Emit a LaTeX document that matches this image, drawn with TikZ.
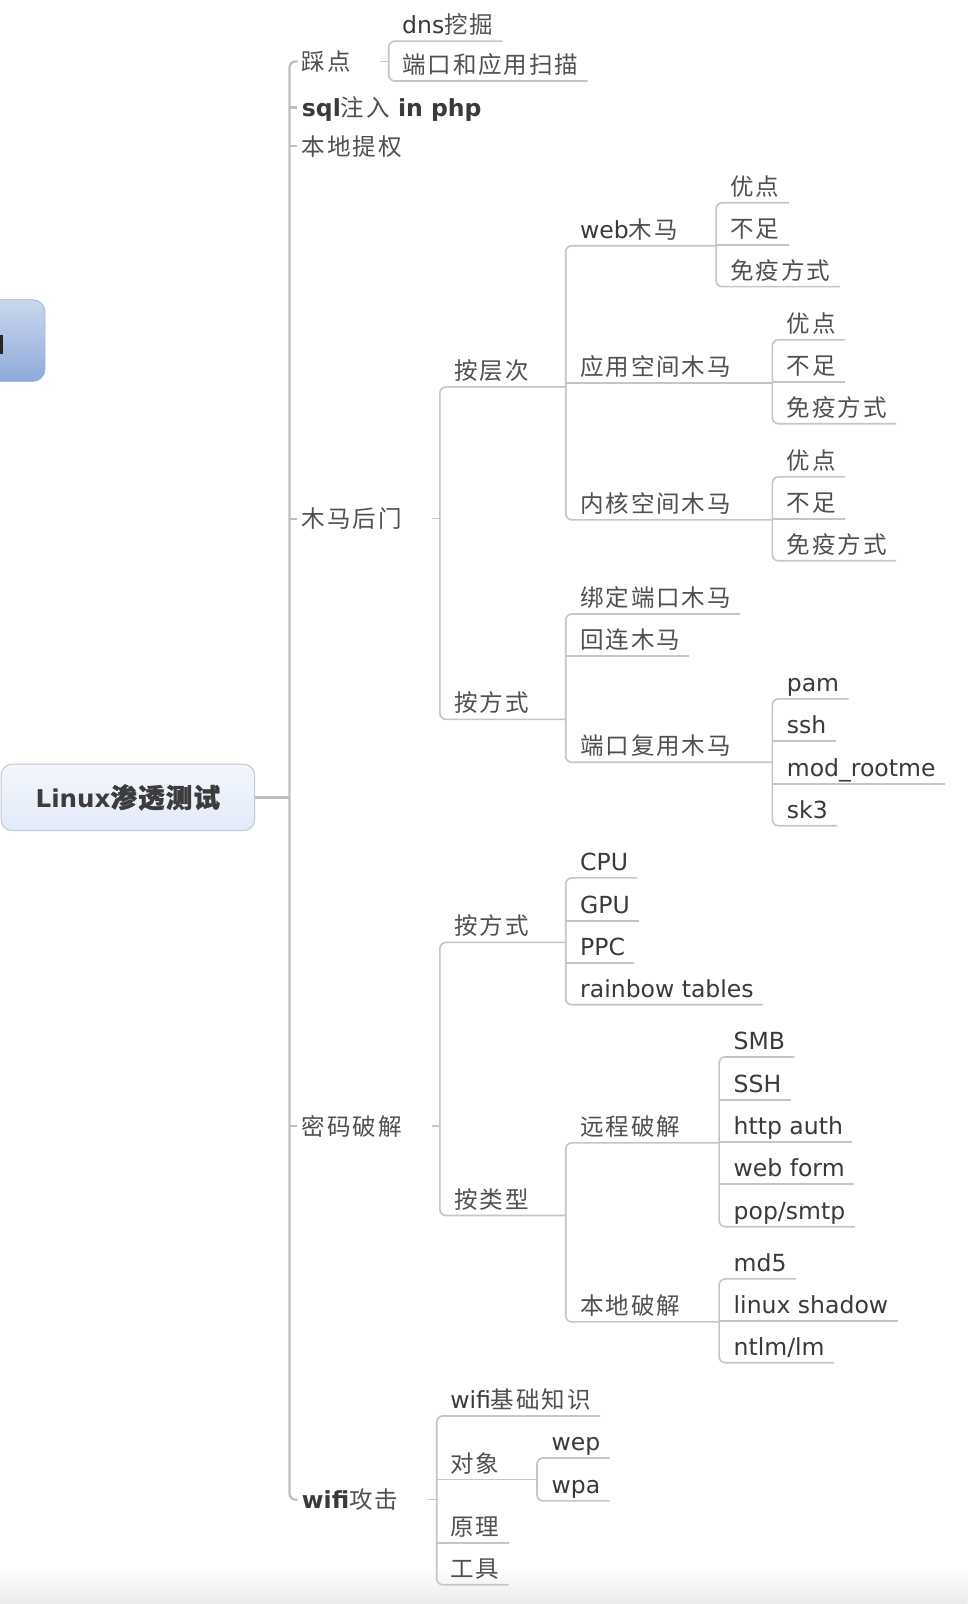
\documentclass[tikz,border=0pt]{standalone}
\usepackage{fontspec}
\setmainfont{DejaVu Sans}
\newfontfamily\zhfont[LetterSpace=8]{Noto Sans CJK SC}
\newfontfamily\zhbfont[LetterSpace=4,FakeBold=1.2]{Noto Sans CJK SC}
\definecolor{lc}{HTML}{C6C6C6}
\definecolor{lcm}{HTML}{BEBEBE}
\definecolor{txt}{HTML}{3A3A3A}
\definecolor{zhc}{HTML}{505050}
\definecolor{rootc}{HTML}{3C3C3C}
\definecolor{rootb}{HTML}{C4C8D0}
\definecolor{roott}{HTML}{F3F6FD}
\definecolor{rootbt}{HTML}{E2EAF8}
\definecolor{bluet}{HTML}{CAD7EE}
\definecolor{blueb}{HTML}{8EAADA}
\definecolor{bluebd}{HTML}{A8B8D8}
\newcommand\zh{\mdseries\zhfont\color{zhc}}
\newcommand\zhb{\fontsize{26}{30}\selectfont\zhbfont\color{rootc}}
\newcommand\mkleaf[1]{\coordinate (#1-e) at ([xshift=9pt]#1.south east);}
\newcommand\mkpar[2]{\coordinate (#1-e) at (#2 |- #1.south);}
\newcommand\branchgrp[3]{\draw[ln,rounded corners=6pt] (#2-e) -- (#1 |- #2.south) -- (#1 |- #3.south) -- (#3-e);}
\newcommand\midul[2]{\draw[ln] (#1 |- #2.south) -- (#2-e);}
\tikzset{
  t/.style={anchor=west, inner xsep=0pt, inner ysep=5pt, text height=20pt, text depth=2pt, text=txt, font=\fontsize{23}{26}\selectfont},
  ln/.style={draw=lc, line width=1.6pt},
  mainln/.style={draw=lcm, line width=2.2pt},
}
\begin{document}
\begin{tikzpicture}[x=1pt,y=-1pt]
\useasboundingbox (0,0) rectangle (946,1568);
\clip (0,0) rectangle (946,1568);
\fill[white] (0,0) rectangle (946,1568);
\shade[top color=white, bottom color=black!8] (0,1532) rectangle (946,1568);

% partial node at the left edge
\draw[draw=bluebd, line width=0.8pt, top color=bluet, bottom color=blueb, rounded corners=12pt] (-30,293) rectangle (44,373);
\fill[black!85] (0,327) rectangle (3,346);

% stem coordinates
\coordinate (sM) at (283,0);
\coordinate (sCD) at (380,0);
\coordinate (sMM) at (430,0);
\coordinate (sACC) at (553,0);
\coordinate (sWEB) at (700,0);
\coordinate (sAPP) at (755,0);
\coordinate (sKER) at (755,0);
\coordinate (sAFS) at (553,0);
\coordinate (sREU) at (755,0);
\coordinate (sPW) at (430,0);
\coordinate (sPFS) at (553,0);
\coordinate (sPLX) at (553,0);
\coordinate (sREM) at (703,0);
\coordinate (sLOC) at (703,0);
\coordinate (sWF) at (427,0);
\coordinate (sOBJ) at (525,0);

% root
\node[draw=rootb, line width=1pt, rounded corners=11pt, top color=roott, bottom color=rootbt, minimum width=248pt, minimum height=65pt, inner sep=0pt, font=\fontsize{24}{28}\selectfont\bfseries, text=rootc] (root) at (125,779.5) {Linux{\zhb 渗透测试}};

% level 1
\node[t] (cd) at (295,60) {\zh 踩点};
\node[t] (sql) at (295,105) {\bfseries sql{\zh 注入} in php};
\node[t] (tq) at (295,143) {\zh 本地提权};
\node[t] (mm) at (295,507) {\zh 木马后门};
\node[t] (pw) at (295,1101) {\zh 密码破解};
\node[t] (wifi) at (295,1466) {\bfseries wifi{\zh 攻击}};

% 踩点
\node[t] (dns) at (393,24) {dns{\zh 挖掘}};
\node[t] (port) at (393,63) {\zh 端口和应用扫描};

% 木马后门
\node[t] (acc) at (444,362) {\zh 按层次};
\node[t] (afs) at (444,687) {\zh 按方式};
\node[t] (web) at (567,224) {web{\zh 木马}};
\node[t] (w1) at (714,182) {\zh 优点};
\node[t] (w2) at (714,223) {\zh 不足};
\node[t] (w3) at (714,264) {\zh 免疫方式};
\node[t] (app) at (567,358) {\zh 应用空间木马};
\node[t] (a1) at (769,316) {\zh 优点};
\node[t] (a2) at (769,357) {\zh 不足};
\node[t] (a3) at (769,398) {\zh 免疫方式};
\node[t] (ker) at (567,492) {\zh 内核空间木马};
\node[t] (k1) at (769,450) {\zh 优点};
\node[t] (k2) at (769,491) {\zh 不足};
\node[t] (k3) at (769,532) {\zh 免疫方式};
\node[t] (bind) at (567,584) {\zh 绑定端口木马};
\node[t] (back) at (567,625) {\zh 回连木马};
\node[t] (reuse) at (567,729) {\zh 端口复用木马};
\node[t] (pam) at (769,667) {pam};
\node[t] (ssh) at (769,708) {ssh};
\node[t] (rootme) at (769,750) {mod\_rootme};
\node[t] (sk3) at (769,791) {sk3};

% 密码破解
\node[t] (pfs) at (444,905) {\zh 按方式};
\node[t] (cpu) at (567,842) {CPU};
\node[t] (gpu) at (567,884) {GPU};
\node[t] (ppc) at (567,925) {PPC};
\node[t] (rb) at (567,966) {rainbow tables};
\node[t] (plx) at (444,1172) {\zh 按类型};
\node[t] (rem) at (567,1101) {\zh 远程破解};
\node[t] (smb) at (717,1017) {SMB};
\node[t] (sshb) at (717,1059) {SSH};
\node[t] (http) at (717,1100) {http auth};
\node[t] (wform) at (717,1141) {web form};
\node[t] (pop) at (717,1183) {pop/smtp};
\node[t] (loc) at (567,1276) {\zh 本地破解};
\node[t] (md5) at (717,1234) {md5};
\node[t] (shadow) at (717,1275) {linux shadow};
\node[t] (ntlm) at (717,1316) {ntlm/lm};

% wifi攻击
\node[t] (wb) at (440,1368) {wifi{\zh 基础知识}};
\node[t] (obj) at (440,1430) {\zh 对象};
\node[t] (wep) at (539,1409) {wep};
\node[t] (wpa) at (539,1451) {wpa};
\node[t] (yl) at (440,1492) {\zh 原理};
\node[t] (gj) at (440,1533) {\zh 工具};

% main stem
\draw[mainln, rounded corners=6pt] ([xshift=-4pt]cd.west) -- (sM |- cd.west) -- (sM |- wifi.west) -- ([xshift=-4pt]wifi.west);
\foreach \n in {sql,tq,mm,pw} {\draw[mainln] (sM |- \n.west) -- ([xshift=-5pt]\n.west);}
\draw[mainln] (root.east) -- (sM |- root.east);

% 踩点 group
\mkleaf{dns}\mkleaf{port}
\draw[ln] (sCD |- cd.west) -- ++(-9,0);
\branchgrp{sCD}{dns}{port}

% 木马后门 group
\mkpar{acc}{sACC}\mkpar{afs}{sAFS}
\draw[ln] (sMM |- mm.west) -- ++(-8,0);
\branchgrp{sMM}{acc}{afs}

\mkpar{web}{sWEB}\mkpar{app}{sAPP}\mkpar{ker}{sKER}
\branchgrp{sACC}{web}{ker}\midul{sACC}{app}

\mkleaf{w1}\mkleaf{w2}\mkleaf{w3}
\branchgrp{sWEB}{w1}{w3}\midul{sWEB}{w2}
\mkleaf{a1}\mkleaf{a2}\mkleaf{a3}
\branchgrp{sAPP}{a1}{a3}\midul{sAPP}{a2}
\mkleaf{k1}\mkleaf{k2}\mkleaf{k3}
\branchgrp{sKER}{k1}{k3}\midul{sKER}{k2}

\mkleaf{bind}\mkleaf{back}\mkpar{reuse}{sREU}
\branchgrp{sAFS}{bind}{reuse}\midul{sAFS}{back}
\mkleaf{pam}\mkleaf{ssh}\mkleaf{rootme}\mkleaf{sk3}
\branchgrp{sREU}{pam}{sk3}\midul{sREU}{ssh}\midul{sREU}{rootme}

% 密码破解 group
\mkpar{pfs}{sPFS}\mkpar{plx}{sPLX}
\draw[ln] (sPW |- pw.west) -- ++(-8,0);
\branchgrp{sPW}{pfs}{plx}
\mkleaf{cpu}\mkleaf{gpu}\mkleaf{ppc}\mkleaf{rb}
\branchgrp{sPFS}{cpu}{rb}\midul{sPFS}{gpu}\midul{sPFS}{ppc}
\mkpar{rem}{sREM}\mkpar{loc}{sLOC}
\branchgrp{sPLX}{rem}{loc}
\mkleaf{smb}\mkleaf{sshb}\mkleaf{http}\mkleaf{wform}\mkleaf{pop}
\branchgrp{sREM}{smb}{pop}\midul{sREM}{sshb}\midul{sREM}{http}\midul{sREM}{wform}
\mkleaf{md5}\mkleaf{shadow}\mkleaf{ntlm}
\branchgrp{sLOC}{md5}{ntlm}\midul{sLOC}{shadow}

% wifi group
\mkleaf{wb}\mkpar{obj}{sOBJ}\mkleaf{yl}\mkleaf{gj}
\draw[ln] (sWF |- wifi.west) -- ++(-9,0);
\branchgrp{sWF}{wb}{gj}\midul{sWF}{obj}\midul{sWF}{yl}
\mkleaf{wep}\mkleaf{wpa}
\branchgrp{sOBJ}{wep}{wpa}
\end{tikzpicture}
\end{document}
